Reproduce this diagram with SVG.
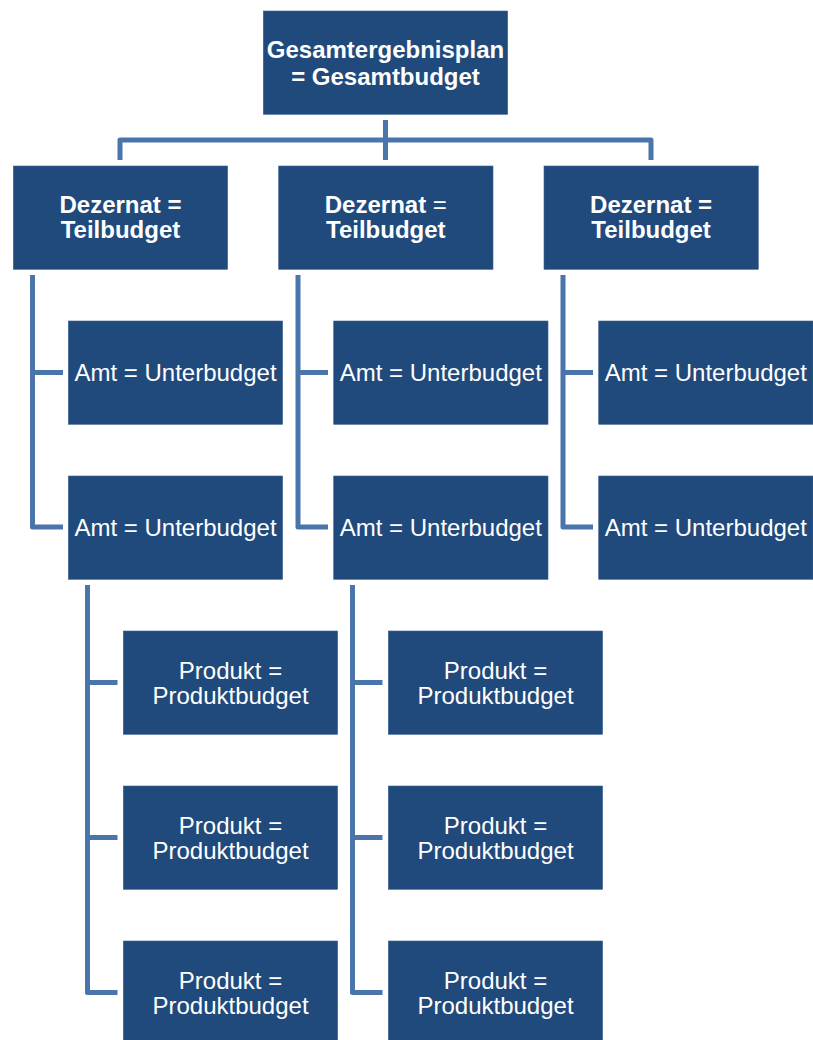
<svg xmlns="http://www.w3.org/2000/svg" width="813" height="1040" viewBox="0 0 813 1040">
<style>
.box{fill:#214A7C;stroke:#3B6193;stroke-width:0.6}
.t{font-family:"Liberation Sans",Arial,sans-serif;font-size:24px;fill:#FFFFFF;text-anchor:middle}
.b{font-weight:bold}
.c{fill:none;stroke:#4A75AA;stroke-width:5;stroke-linejoin:round;stroke-linecap:butt}
</style>
<rect width="813" height="1040" fill="#FFFFFF"/>
<g id="connectors">
<path class="c" d="M120,160 V140 H651 V160"/>
<path class="c" d="M385.5,120 V160"/>
<path class="c" d="M32.5,275 V527 H63 M32.5,372.5 H63"/>
<path class="c" d="M298,275 V527 H328 M298,372.5 H328"/>
<path class="c" d="M563,275 V527 H593 M563,372.5 H593"/>
<path class="c" d="M87.5,585 V992.5 H117.5 M87.5,682.5 H117.5 M87.5,837.5 H117.5"/>
<path class="c" d="M352.5,585 V992.5 H382.5 M352.5,682.5 H382.5 M352.5,837.5 H382.5"/>
</g>
<g id="top">
<rect class="box" x="263.3" y="11" width="244.4" height="103.3"/>
<text class="t b" x="385.5" y="58">Gesamtergebnisplan</text>
<text class="t b" x="385.5" y="84.5">= Gesamtbudget</text>
</g>
<g id="dez1">
<rect class="box" x="13.3" y="166" width="214.3" height="103.3"/>
<text class="t b" x="120.5" y="212.5">Dezernat =</text>
<text class="t b" x="120.5" y="237.5">Teilbudget</text>
</g>
<g id="dez2">
<rect class="box" x="278.7" y="166" width="214.3" height="103.3"/>
<text class="t b" x="385.8" y="212.5">Dezernat <tspan font-weight="normal">=</tspan></text>
<text class="t b" x="385.8" y="237.5">Teilbudget</text>
</g>
<g id="dez3">
<rect class="box" x="544" y="166" width="214.3" height="103.3"/>
<text class="t b" x="651.1" y="212.5">Dezernat =</text>
<text class="t b" x="651.1" y="237.5">Teilbudget</text>
</g>
<g id="amt1a">
<rect class="box" x="68.3" y="321" width="214.3" height="103.3"/>
<text class="t" x="175.5" y="381">Amt = Unterbudget</text>
</g>
<g id="amt1b">
<rect class="box" x="68.3" y="476" width="214.3" height="103.3"/>
<text class="t" x="175.5" y="536">Amt = Unterbudget</text>
</g>
<g id="amt2a">
<rect class="box" x="333.7" y="321" width="214.3" height="103.3"/>
<text class="t" x="440.8" y="381">Amt = Unterbudget</text>
</g>
<g id="amt2b">
<rect class="box" x="333.7" y="476" width="214.3" height="103.3"/>
<text class="t" x="440.8" y="536">Amt = Unterbudget</text>
</g>
<g id="amt3a">
<rect class="box" x="598.7" y="321" width="214.3" height="103.3"/>
<text class="t" x="705.8" y="381">Amt = Unterbudget</text>
</g>
<g id="amt3b">
<rect class="box" x="598.7" y="476" width="214.3" height="103.3"/>
<text class="t" x="705.8" y="536">Amt = Unterbudget</text>
</g>
<g id="prod1a">
<rect class="box" x="123.3" y="631" width="214.3" height="103.3"/>
<text class="t" x="230.5" y="678.5">Produkt =</text>
<text class="t" x="230.5" y="703.5">Produktbudget</text>
</g>
<g id="prod1b">
<rect class="box" x="123.3" y="786" width="214.3" height="103.3"/>
<text class="t" x="230.5" y="833.5">Produkt =</text>
<text class="t" x="230.5" y="858.5">Produktbudget</text>
</g>
<g id="prod1c">
<rect class="box" x="123.3" y="941" width="214.3" height="103.3"/>
<text class="t" x="230.5" y="988.5">Produkt =</text>
<text class="t" x="230.5" y="1013.5">Produktbudget</text>
</g>
<g id="prod2a">
<rect class="box" x="388.3" y="631" width="214.3" height="103.3"/>
<text class="t" x="495.5" y="678.5">Produkt =</text>
<text class="t" x="495.5" y="703.5">Produktbudget</text>
</g>
<g id="prod2b">
<rect class="box" x="388.3" y="786" width="214.3" height="103.3"/>
<text class="t" x="495.5" y="833.5">Produkt =</text>
<text class="t" x="495.5" y="858.5">Produktbudget</text>
</g>
<g id="prod2c">
<rect class="box" x="388.3" y="941" width="214.3" height="103.3"/>
<text class="t" x="495.5" y="988.5">Produkt =</text>
<text class="t" x="495.5" y="1013.5">Produktbudget</text>
</g>
</svg>
